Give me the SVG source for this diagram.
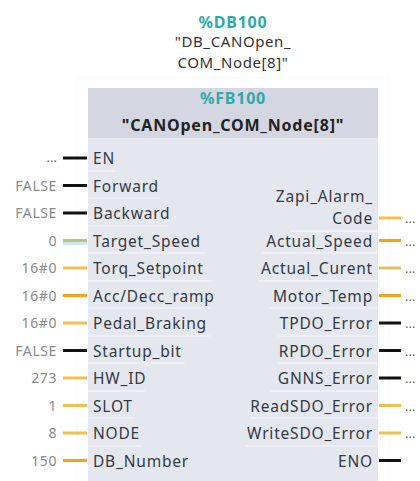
<svg xmlns="http://www.w3.org/2000/svg" width="420" height="481" viewBox="0 0 420 481">
  <style>
    text { font-family: "Noto Sans", "Open Sans", "Liberation Sans", sans-serif; }
    .addr { fill: #2fa9a9; font-weight: bold; font-size: 16px; letter-spacing: 0.8px; text-anchor: middle; }
    .inst { fill: #333333; font-size: 15px; letter-spacing: 0.6px; text-anchor: middle; }
    .title { fill: #222222; font-weight: bold; font-size: 16px; letter-spacing: 0.8px; text-anchor: middle; }
    .pin { fill: #333a44; font-size: 15.5px; letter-spacing: 0.8px; dominant-baseline: central; }
    .pinR { fill: #333a44; font-size: 15.5px; letter-spacing: 0.8px; dominant-baseline: central; text-anchor: end; }
    .val { fill: #8a8a8a; font-size: 14px; letter-spacing: 0.6px; dominant-baseline: central; text-anchor: end; }
    .dots { fill: #666666; font-size: 13px; dominant-baseline: central; }
    .sep { stroke: #f5f6f9; stroke-width: 1.2; }
    .w { stroke-width: 3; fill: none; }
    .bool { stroke: #111111; }
    .org { stroke: #f7a21d; }
    .yel { stroke: #efc150; }
    .grn { stroke: #b8c57c; }
    .ycur { stroke: #dcc466; }
  </style>

  <!-- instance data block -->
  <g id="instance-db">
    <text class="addr" x="233" y="28">%DB100</text>
    <text class="inst" x="233" y="47">"DB_CANOpen_</text>
    <text class="inst" x="233" y="68">COM_Node[8]"</text>
  </g>

  <!-- function block body -->
  <g id="fb-block">
    <rect x="77" y="78" width="312" height="403" fill="none" stroke="#f9f9f9" stroke-width="1"/>
    <rect x="88" y="88" width="290" height="393" fill="#e5e7ee"/>
    <rect x="88" y="88" width="290" height="50" fill="#d4d7e1"/>
    <text class="addr" x="233" y="104">%FB100</text>
    <text class="title" x="233" y="131">"CANOpen_COM_Node[8]"</text>

    <!-- row separators -->
    <g id="separators">
      <line class="sep" x1="88" y1="171" x2="115" y2="171"/>
      <line class="sep" x1="88" y1="198" x2="160" y2="198"/>
      <line class="sep" x1="88" y1="226" x2="168" y2="226"/>
      <line class="sep" x1="88" y1="253" x2="205" y2="253"/>
      <line class="sep" x1="88" y1="281" x2="212" y2="281"/>
      <line class="sep" x1="88" y1="308" x2="210" y2="308"/>
      <line class="sep" x1="88" y1="336" x2="210" y2="336"/>
      <line class="sep" x1="88" y1="363" x2="185" y2="363"/>
      <line class="sep" x1="88" y1="391" x2="145" y2="391"/>
      <line class="sep" x1="88" y1="418" x2="135" y2="418"/>
      <line class="sep" x1="88" y1="446" x2="142" y2="446"/>
      <line class="sep" x1="290" y1="231" x2="378" y2="231"/>
      <line class="sep" x1="262" y1="253" x2="378" y2="253"/>
      <line class="sep" x1="258" y1="281" x2="378" y2="281"/>
      <line class="sep" x1="270" y1="308" x2="378" y2="308"/>
      <line class="sep" x1="278" y1="336" x2="378" y2="336"/>
      <line class="sep" x1="278" y1="363" x2="378" y2="363"/>
      <line class="sep" x1="270" y1="391" x2="378" y2="391"/>
      <line class="sep" x1="250" y1="418" x2="378" y2="418"/>
      <line class="sep" x1="246" y1="446" x2="378" y2="446"/>
    </g>
  </g>

  <!-- input pins -->
  <g id="inputs">
    <g id="in-en"><text class="pin" x="93" y="158">EN</text></g>
    <g id="in-forward"><text class="pin" x="93" y="185.5">Forward</text></g>
    <g id="in-backward"><text class="pin" x="93" y="213">Backward</text></g>
    <g id="in-target-speed"><text class="pin" x="93" y="240.5">Target_Speed</text></g>
    <g id="in-torq-setpoint"><text class="pin" x="93" y="268">Torq_Setpoint</text></g>
    <g id="in-acc-decc"><text class="pin" x="93" y="295.5">Acc/Decc_ramp</text></g>
    <g id="in-pedal-braking"><text class="pin" x="93" y="323">Pedal_Braking</text></g>
    <g id="in-startup-bit"><text class="pin" x="93" y="350.5">Startup_bit</text></g>
    <g id="in-hw-id"><text class="pin" x="93" y="378">HW_ID</text></g>
    <g id="in-slot"><text class="pin" x="93" y="405.5">SLOT</text></g>
    <g id="in-node"><text class="pin" x="93" y="433">NODE</text></g>
    <g id="in-db-number"><text class="pin" x="93" y="460.5">DB_Number</text></g>
  </g>

  <!-- actual parameters on the inputs -->
  <g id="input-values">
    <text class="dots" x="57" y="157" text-anchor="end">...</text>
    <text class="val" x="57" y="185">FALSE</text>
    <text class="val" x="57" y="212.5">FALSE</text>
    <text class="val" x="57" y="240">0</text>
    <text class="val" x="57" y="267.5">16#0</text>
    <text class="val" x="57" y="295">16#0</text>
    <text class="val" x="57" y="322.5">16#0</text>
    <text class="val" x="57" y="350">FALSE</text>
    <text class="val" x="57" y="377.5">273</text>
    <text class="val" x="57" y="405">1</text>
    <text class="val" x="57" y="432.5">8</text>
    <text class="val" x="57" y="460">150</text>
  </g>

  <!-- output pins -->
  <g id="outputs">
    <g id="out-zapi-alarm"><text class="pinR" x="373" y="195.5">Zapi_Alarm_</text><text class="pinR" x="373" y="218">Code</text></g>
    <g id="out-actual-speed"><text class="pinR" x="373" y="240.5">Actual_Speed</text></g>
    <g id="out-actual-curent"><text class="pinR" x="373" y="268">Actual_Curent</text></g>
    <g id="out-motor-temp"><text class="pinR" x="373" y="295.5">Motor_Temp</text></g>
    <g id="out-tpdo"><text class="pinR" x="373" y="323">TPDO_Error</text></g>
    <g id="out-rpdo"><text class="pinR" x="373" y="350.5">RPDO_Error</text></g>
    <g id="out-gnns"><text class="pinR" x="373" y="378">GNNS_Error</text></g>
    <g id="out-readsdo"><text class="pinR" x="373" y="405.5">ReadSDO_Error</text></g>
    <g id="out-writesdo"><text class="pinR" x="373" y="433">WriteSDO_Error</text></g>
    <g id="out-eno"><text class="pinR" x="373" y="460.5">ENO</text></g>
  </g>

  <!-- wires -->
  <g id="connectors">
    <rect x="63" y="240" width="24" height="5" fill="#cfe6f5"/>
    <line class="w bool" x1="63" y1="158" x2="87" y2="158"/>
    <line class="w bool" x1="63" y1="185.5" x2="87" y2="185.5"/>
    <line class="w bool" x1="63" y1="213" x2="87" y2="213"/>
    <line class="w grn" x1="63" y1="240.5" x2="87" y2="240.5"/>
    <line class="w yel" x1="63" y1="268" x2="87" y2="268"/>
    <line class="w org" x1="63" y1="295.5" x2="87" y2="295.5"/>
    <line class="w yel" x1="63" y1="323" x2="87" y2="323"/>
    <line class="w bool" x1="63" y1="350.5" x2="87" y2="350.5"/>
    <line class="w yel" x1="63" y1="378" x2="87" y2="378"/>
    <line class="w yel" x1="63" y1="405.5" x2="87" y2="405.5"/>
    <line class="w yel" x1="63" y1="433" x2="87" y2="433"/>
    <line class="w org" x1="63" y1="460.5" x2="87" y2="460.5"/>

    <line class="w yel" x1="379" y1="218" x2="401" y2="218"/>
    <line class="w org" x1="379" y1="240.5" x2="401" y2="240.5"/>
    <line class="w ycur" x1="379" y1="268" x2="401" y2="268"/>
    <line class="w org" x1="379" y1="295.5" x2="401" y2="295.5"/>
    <line class="w bool" x1="379" y1="323" x2="401" y2="323"/>
    <line class="w bool" x1="379" y1="350.5" x2="401" y2="350.5"/>
    <line class="w bool" x1="379" y1="378" x2="401" y2="378"/>
    <line class="w yel" x1="379" y1="405.5" x2="401" y2="405.5"/>
    <line class="w yel" x1="379" y1="433" x2="401" y2="433"/>
    <line class="w bool" x1="379" y1="460.5" x2="401" y2="460.5"/>
  </g>

  <!-- actual parameters on the outputs -->
  <g id="output-values">
    <text class="dots" x="405" y="218">...</text>
    <text class="dots" x="405" y="240.5">...</text>
    <text class="dots" x="405" y="268">...</text>
    <text class="dots" x="405" y="295.5">...</text>
    <text class="dots" x="405" y="323">...</text>
    <text class="dots" x="405" y="350.5">...</text>
    <text class="dots" x="405" y="378">...</text>
    <text class="dots" x="405" y="405.5">...</text>
    <text class="dots" x="405" y="433">...</text>
  </g>
</svg>
